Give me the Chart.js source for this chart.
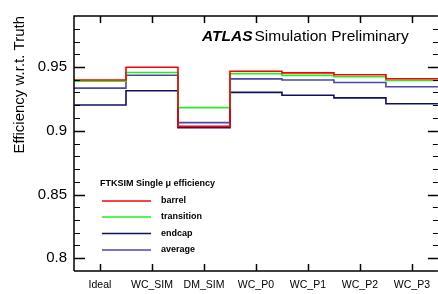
<!DOCTYPE html>
<html>
<head>
<meta charset="utf-8">
<script src="https://cdn.jsdelivr.net/npm/chart.js@4/dist/chart.umd.min.js"></script>
<style>
  body { margin: 0; background: #fff; }
  #effChart { display: block; }
</style>
</head>
<body>
<canvas id="effChart" width="438" height="294"></canvas>
<script>
// Values
const categories = ['Ideal', 'WC_SIM', 'DM_SIM', 'WC_P0', 'WC_P1', 'WC_P2', 'WC_P3'];
const barrel     = [0.9398, 0.9498, 0.9034, 0.9467, 0.9454, 0.9439, 0.9408];
const transition = [0.9388, 0.9457, 0.9181, 0.9448, 0.9434, 0.9424, 0.9395];
const endcap     = [0.9202, 0.9314, 0.9024, 0.9301, 0.9278, 0.9258, 0.9212];
const average    = [0.9334, 0.9435, 0.9064, 0.9407, 0.9398, 0.9378, 0.9345];
const yMajorTicks = [0.8, 0.85, 0.9, 0.95];
const yMinorTicks = [0.80, 0.81, 0.82, 0.83, 0.84, 0.85, 0.86, 0.87, 0.88, 0.89,
                     0.90, 0.91, 0.92, 0.93, 0.94, 0.95, 0.96, 0.97, 0.98];

const FONT = '"Liberation Sans", Arial, Helvetica, sans-serif';

// histogram-like steps: bin i runs from edge i to edge i+1
const toSteps = values => [{x: 0, y: values[0]}]
    .concat(values.map((v, i) => ({x: i + 1, y: v})));

const makeSet = (label, values, color) => ({
    label,
    data: toSteps(values),
    borderColor: color,
    backgroundColor: color,
    borderWidth: 1.6,
    stepped: 'after',
    pointRadius: 0,
    fill: false
});

// ROOT style frame: inward ticks on all sides, text labels
const rootFrame = {
    id: 'rootFrame',
    afterDraw(chart) {
        const {ctx, chartArea: a, scales: {x, y}} = chart;
        ctx.save();
        ctx.strokeStyle = '#000';
        ctx.lineWidth = 1.5;
        ctx.beginPath();
        ctx.moveTo(a.left, a.bottom);
        ctx.lineTo(a.left, a.top);
        ctx.lineTo(a.right, a.top);
        ctx.moveTo(a.left, a.bottom);
        ctx.lineTo(a.right, a.bottom);
        ctx.stroke();

        // y ticks (left and right)
        yMinorTicks.forEach(v => {
            const py = Math.round(y.getPixelForValue(v)) + 0.5;
            const major = yMajorTicks.some(m => Math.abs(m - v) < 1e-6);
            ctx.lineWidth = major ? 1.5 : 1;
            ctx.beginPath();
            ctx.moveTo(a.left, py);
            ctx.lineTo(a.left + (major ? 11 : 6), py);
            ctx.moveTo(a.right, py);
            ctx.lineTo(a.right - (major ? 10 : 5), py);
            ctx.stroke();
        });

        // x ticks at bin centres (top and bottom)
        ctx.lineWidth = 1.5;
        categories.forEach((c, i) => {
            const px = Math.round(x.getPixelForValue(i + 0.5)) + 0.5;
            ctx.beginPath();
            ctx.moveTo(px, a.top);
            ctx.lineTo(px, a.top + 7);
            ctx.moveTo(px, a.bottom);
            ctx.lineTo(px, a.bottom - 7);
            ctx.stroke();
        });

        // ATLAS label
        ctx.fillStyle = '#000';
        ctx.textBaseline = 'alphabetic';
        ctx.font = 'italic bold 15.5px ' + FONT;
        ctx.fillText('ATLAS', 202, 41);
        const w = ctx.measureText('ATLAS').width;
        ctx.font = '15.5px ' + FONT;
        ctx.fillText('Simulation Preliminary', 202 + w + 2, 41);

        // legend
        ctx.textBaseline = 'middle';
        ctx.font = 'bold 9px ' + FONT;
        ctx.fillText('FTKSIM Single \u03bc efficiency', 100, 184);
        const rows = [201, 217, 233.5, 250];
        chart.data.datasets.forEach((ds, i) => {
            ctx.strokeStyle = ds.borderColor;
            ctx.lineWidth = 1.6;
            ctx.beginPath();
            ctx.moveTo(102, rows[i]);
            ctx.lineTo(151, rows[i]);
            ctx.stroke();
            ctx.fillStyle = '#000';
            ctx.fillText(ds.label, 161, rows[i]);
        });
        ctx.restore();
    }
};

const ctx = document.getElementById('effChart').getContext('2d');
new Chart(ctx, {
    type: 'line',
    data: {
        datasets: [
            makeSet('barrel', barrel, '#ff0000'),
            makeSet('transition', transition, '#22ee22'),
            makeSet('endcap', endcap, '#101060'),
            makeSet('average', average, '#4848a8')
        ]
    },
    options: {
        responsive: false,
        animation: false,
        layout: {autoPadding: false, padding: {top: 9, right: 0, bottom: 0, left: 0}},
        plugins: {legend: {display: false}, tooltip: {enabled: false}},
        scales: {
            x: {
                type: 'linear',
                min: 0,
                max: categories.length,
                grid: {display: false, drawTicks: false},
                border: {display: false},
                afterBuildTicks: scale => {
                    scale.ticks = categories.map((c, i) => ({value: i + 0.5}));
                },
                afterFit: scale => { scale.height = 23; },
                ticks: {
                    autoSkip: false,
                    maxRotation: 0,
                    padding: 8,
                    color: '#000',
                    font: {family: FONT, size: 10.5},
                    callback: (value, index) => categories[index]
                }
            },
            y: {
                type: 'linear',
                min: 0.79,
                max: 0.99,
                grid: {display: false, drawTicks: false},
                border: {display: false},
                afterBuildTicks: scale => {
                    scale.ticks = yMajorTicks.map(v => ({value: v}));
                },
                afterFit: scale => { scale.width = 74; },
                ticks: {
                    padding: 7,
                    color: '#000',
                    font: {family: FONT, size: 15},
                    callback: value => String(value)
                },
                title: {
                    display: true,
                    text: 'Efficiency w.r.t. Truth',
                    align: 'end',
                    color: '#000',
                    padding: {top: 11, bottom: 0},
                    font: {family: FONT, size: 15}
                }
            }
        }
    },
    plugins: [rootFrame]
});
</script>
</body>
</html>
